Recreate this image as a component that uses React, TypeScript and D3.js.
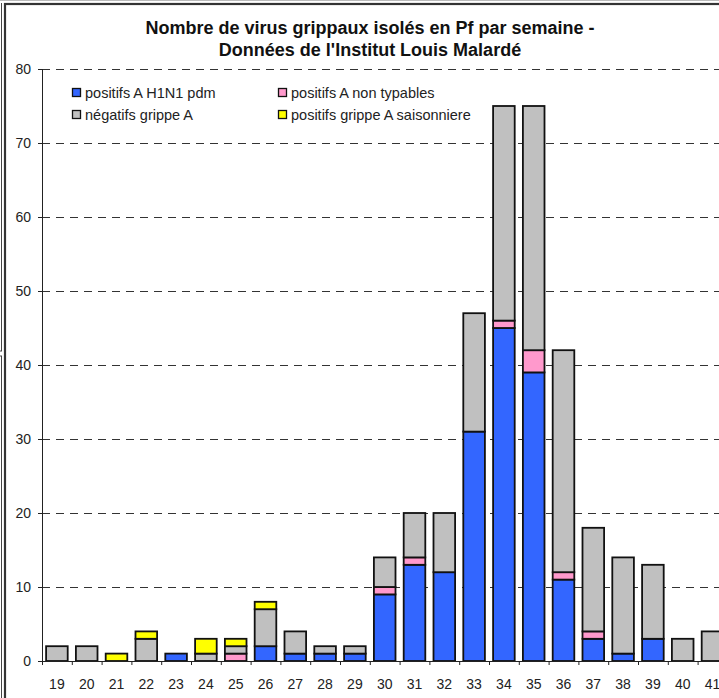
import React, { useEffect, useRef } from "react";
import * as d3 from "d3";

const weeks = ["19", "20", "21", "22", "23", "24", "25", "26", "27", "28", "29", "30", "31", "32", "33", "34", "35", "36", "37", "38", "39", "40", "41"];
const h1n1 = [0, 0, 0, 0, 1, 0, 0, 2, 1, 1, 1, 9, 13, 12, 31, 45, 39, 11, 3, 1, 3, 0, 0];
const nonTypables = [0, 0, 0, 0, 0, 0, 1, 0, 0, 0, 0, 1, 1, 0, 0, 1, 3, 1, 1, 0, 0, 0, 0];
const negatifs = [2, 2, 0, 3, 0, 1, 1, 5, 3, 1, 1, 4, 6, 8, 16, 29, 33, 30, 14, 13, 10, 3, 4];
const saisonniere = [0, 0, 1, 1, 0, 2, 1, 1, 0, 0, 0, 0, 0, 0, 0, 0, 0, 0, 0, 0, 0, 0, 0];
const yTicks = [0, 10, 20, 30, 40, 50, 60, 70, 80];

const keys = ["h1n1", "pink", "grey", "yellow"];
const labels = ["positifs A H1N1 pdm", "positifs A non typables", "négatifs grippe A", "positifs grippe A saisonniere"];
const colors = ["#3366FF", "#FF99CC", "#C0C0C0", "#FFFF00"];

export default function App() {
  const ref = useRef(null);

  useEffect(() => {
    const svg = d3.select(ref.current);
    svg.selectAll("*").remove();
    const font = "Arial, 'Liberation Sans', sans-serif";

    const data = weeks.map((w, i) => ({
      week: w,
      h1n1: h1n1[i],
      pink: nonTypables[i],
      grey: negatifs[i],
      yellow: saisonniere[i],
    }));

    const left = 42;
    const step = 29.8;
    const x = d3
      .scaleBand()
      .domain(weeks)
      .range([left, left + weeks.length * step])
      .paddingInner(0.275)
      .paddingOuter(0.1375);
    const y = d3.scaleLinear().domain([0, 80]).range([661, 69]);

    // frame (cropped edges of the original sheet)
    svg.append("line").attr("x1", 1.5).attr("x2", 1.5).attr("y1", 3).attr("y2", 351).attr("stroke", "#444").attr("stroke-width", 1);
    svg.append("line").attr("x1", 1.5).attr("x2", 1.5).attr("y1", 356).attr("y2", 698).attr("stroke", "#444").attr("stroke-width", 1);
    svg.append("line").attr("x1", 0).attr("x2", 2).attr("y1", 351).attr("y2", 351).attr("stroke", "#444");
    svg.append("line").attr("x1", 0).attr("x2", 2).attr("y1", 356).attr("y2", 356).attr("stroke", "#444");
    svg.append("line").attr("x1", 0).attr("x2", 719).attr("y1", 0.5).attr("y2", 0.5).attr("stroke", "#bbb");
    svg
      .append("rect")
      .attr("x", 5)
      .attr("y", 4)
      .attr("width", 800)
      .attr("height", 800)
      .attr("fill", "white")
      .attr("stroke", "#333")
      .attr("stroke-width", 2.2);

    // grid
    svg
      .append("g")
      .selectAll("line")
      .data(yTicks.filter((t) => t > 0))
      .enter()
      .append("line")
      .attr("x1", left)
      .attr("x2", 719)
      .attr("y1", (d) => y(d) + 0.5)
      .attr("y2", (d) => y(d) + 0.5)
      .attr("stroke", "#333")
      .attr("stroke-dasharray", "8,6");

    // bars
    const series = d3.stack().keys(keys)(data);
    svg
      .append("g")
      .selectAll("g")
      .data(series)
      .enter()
      .append("g")
      .attr("fill", (d, i) => colors[i])
      .selectAll("rect")
      .data((d) => d.filter((p) => p[1] > p[0]))
      .enter()
      .append("rect")
      .attr("x", (d) => x(d.data.week))
      .attr("y", (d) => y(d[1]))
      .attr("width", x.bandwidth())
      .attr("height", (d) => y(d[0]) - y(d[1]))
      .attr("stroke", "#111")
      .attr("stroke-width", 1.8);

    // y axis
    const yAxis = svg.append("g");
    yAxis.append("line").attr("x1", left + 0.5).attr("x2", left + 0.5).attr("y1", y(80)).attr("y2", y(0)).attr("stroke", "#222");
    yAxis
      .selectAll("g")
      .data(yTicks)
      .enter()
      .append("g")
      .each(function (d) {
        const g = d3.select(this);
        g.append("line").attr("x1", left - 4).attr("x2", left).attr("y1", y(d) + 0.5).attr("y2", y(d) + 0.5).attr("stroke", "#222");
        g.append("text")
          .text(d)
          .attr("x", left - 11)
          .attr("y", y(d) + 5)
          .attr("text-anchor", "end")
          .attr("font-family", font)
          .attr("font-size", 14)
          .attr("fill", "#222");
      });

    // x axis
    const xAxis = svg.append("g");
    xAxis.append("line").attr("x1", left).attr("x2", 719).attr("y1", y(0) + 0.5).attr("y2", y(0) + 0.5).attr("stroke", "#222");
    xAxis
      .selectAll("line.tick")
      .data(d3.range(weeks.length + 1))
      .enter()
      .append("line")
      .attr("x1", (i) => left + i * x.step() + 0.5)
      .attr("x2", (i) => left + i * x.step() + 0.5)
      .attr("y1", y(0))
      .attr("y2", y(0) + 4)
      .attr("stroke", "#222");
    xAxis
      .selectAll("text")
      .data(weeks)
      .enter()
      .append("text")
      .text((d) => d)
      .attr("x", (d) => x(d) + x.bandwidth() / 2)
      .attr("y", 689)
      .attr("text-anchor", "middle")
      .attr("font-family", font)
      .attr("font-size", 14)
      .attr("fill", "#222");

    // title
    const title = svg
      .append("text")
      .attr("text-anchor", "middle")
      .attr("font-family", font)
      .attr("font-size", 18)
      .attr("font-weight", "bold")
      .attr("fill", "#111");
    title.append("tspan").attr("x", 370).attr("y", 34).text("Nombre de virus grippaux isolés en Pf par semaine -");
    title.append("tspan").attr("x", 370).attr("y", 56).text("Données de l'Institut Louis Malardé");

    // legend
    const legendPos = [
      [72, 88],
      [278, 88],
      [72, 110],
      [278, 110],
    ];
    const legend = svg.append("g");
    keys.forEach((k, i) => {
      const [lx, ly] = legendPos[i];
      legend
        .append("rect")
        .attr("x", lx + 0.5)
        .attr("y", ly + 0.5)
        .attr("width", 8)
        .attr("height", 8)
        .attr("fill", colors[i])
        .attr("stroke", "#111")
        .attr("stroke-width", 1.3);
      legend
        .append("text")
        .text(labels[i])
        .attr("x", lx + 13)
        .attr("y", ly + 10)
        .attr("font-family", font)
        .attr("font-size", 14.5)
        .attr("fill", "#222");
    });
  }, []);

  return <svg ref={ref} width={719} height={698} style={{ position: "absolute", left: 0, top: 0 }} />;
}
